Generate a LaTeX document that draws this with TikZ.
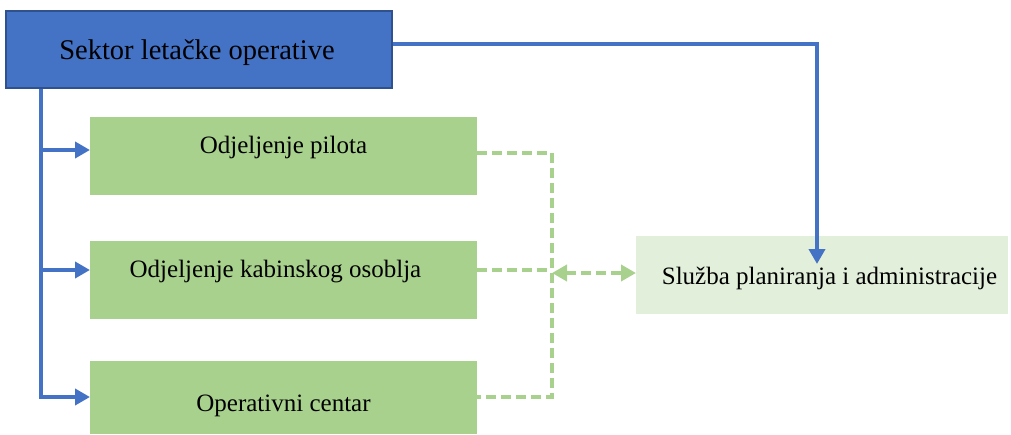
\documentclass[tikz,border=0pt]{standalone}
\usepackage{fontspec}
\setmainfont{Liberation Serif}
\usetikzlibrary{arrows.meta}
\definecolor{hqblue}{HTML}{4472C4}
\definecolor{hqedge}{HTML}{2F528F}
\definecolor{deptgreen}{HTML}{A9D18E}
\definecolor{svcgreen}{HTML}{E2EFDA}
\tikzset{
  unitbox/.style={rectangle, inner sep=0pt, anchor=north west},
  hqbox/.style={unitbox, fill=hqblue, draw=hqedge, line width=1.8pt},
  deptbox/.style={unitbox, fill=deptgreen},
  svcbox/.style={unitbox, fill=svcgreen},
  label28/.style={inner sep=0pt, anchor=base, font=\fontsize{28.5}{32}\selectfont},
  label25/.style={inner sep=0pt, anchor=base, font=\fontsize{25}{30}\selectfont},
  command/.style={draw=hqblue, line width=4pt, -{Triangle[length=15pt,width=16pt]}},
  link/.style={draw=deptgreen, line width=4pt, dash pattern=on 10pt off 5pt},
  linkarrow/.style={link, {Triangle[length=15pt,width=16pt]}-{Triangle[length=15pt,width=16pt]}},
}
\begin{document}
\begin{tikzpicture}[x=1pt, y=-1pt]
\useasboundingbox (0,0) rectangle (1011,434);

% organisational units
\node[hqbox, minimum width=386pt, minimum height=77pt] (hq) at (5,10) {};
\node[deptbox, minimum width=387pt, minimum height=78pt] (pil) at (90,117) {};
\node[deptbox, minimum width=387pt, minimum height=78pt] (kab) at (90,241) {};
\node[deptbox, minimum width=387pt, minimum height=73pt] (ops) at (90,361) {};
\node[svcbox, minimum width=372pt, minimum height=78pt] (svc) at (636,236) {};

% unit names
\node[label28] (thq) at (197,59) {Sektor letačke operative};
\node[label25] (tpil) at (283.5,153) {Odjeljenje pilota};
\node[label25] (tkab) at (275.5,277) {Odjeljenje kabinskog osoblja};
\node[label25] (tops) at (283.5,411) {Operativni centar};
\node[label25] (tsvc) at (829.5,284) {Služba planiranja i administracije};

% coordination links between departments and the service
\coordinate (bus1) at (552,153);
\coordinate (bus2) at (552,270);
\coordinate (bus3) at (552,397);
\draw[link] (pil.east |- bus1) -- (bus1) -- (bus3) -- (ops.east |- bus3);
\draw[link] (kab.east |- bus2) -- (bus2);
\draw[linkarrow] (552,273) -- (svc.west |- 0,273);

% line of command
\coordinate (trunk) at (41,87);
\draw[draw=hqblue, line width=4pt] (hq.south west -| trunk) -- (41,399);
\draw[command] (39,150) -- (pil.west |- 0,150);
\draw[command] (39,270) -- (kab.west |- 0,270);
\draw[command] (39,397) -- (ops.west |- 0,397);
\coordinate (bend) at (817,44);
\draw[command] (hq.east |- bend) -- (bend) -- (817,264);
\end{tikzpicture}
\end{document}
